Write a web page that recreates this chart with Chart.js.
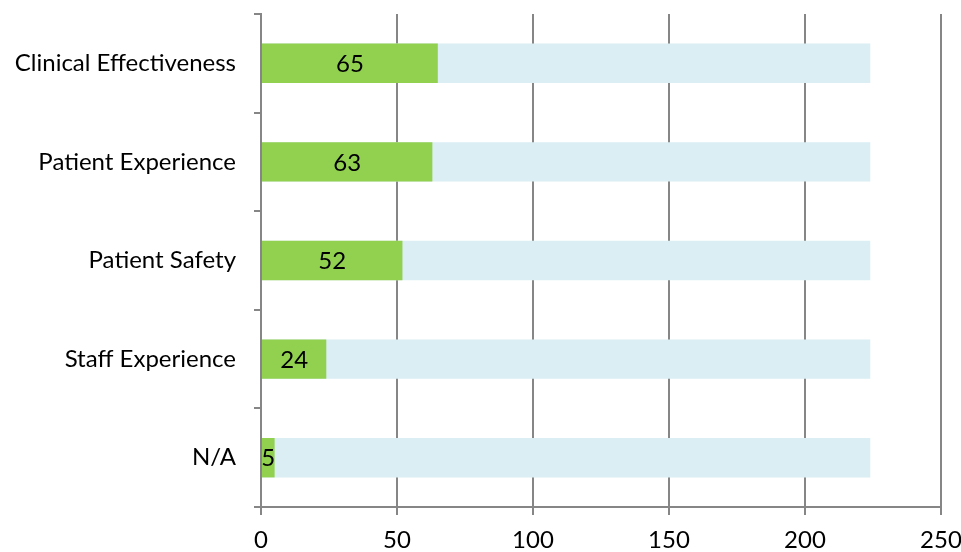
<!DOCTYPE html>
<html>
<head>
<meta charset="utf-8">
<script src="https://cdn.jsdelivr.net/npm/chart.js@4/dist/chart.umd.min.js"></script>
<style>
  html, body { margin: 0; padding: 0; background: #fff; }
  #wrap { width: 961px; height: 552px; }
</style>
</head>
<body>
<div id="wrap"><canvas id="themes"></canvas></div>
<script>
'use strict';

var categories = ['Clinical Effectiveness', 'Patient Experience', 'Patient Safety', 'Staff Experience', 'N/A'];
var counts = [65, 63, 52, 24, 5];
var totals = [224, 224, 224, 224, 224];
var xTicks = [0, 50, 100, 150, 200, 250];

var FONT = 'Lato, "Open Sans", sans-serif';
var FONT_SIZE = 24;
var GRID = '#868686';

// Writes each count in the middle of its green bar
var barLabels = {
  id: 'barLabels',
  afterDatasetsDraw: function (chart) {
    var ctx = chart.ctx;
    var meta = chart.getDatasetMeta(0);
    ctx.save();
    ctx.font = FONT_SIZE + 'px ' + FONT;
    ctx.fillStyle = '#000';
    ctx.textAlign = 'center';
    ctx.textBaseline = 'middle';
    meta.data.forEach(function (bar, i) {
      var cx = (bar.x + bar.base) / 2;
      ctx.fillText(String(counts[i]), cx, bar.y + 1);
    });
    ctx.restore();
  }
};

createThemeChart();

function createThemeChart() {
  var ctx = document.getElementById('themes');
  new Chart(ctx, {
    type: 'bar',
    data: {
      labels: categories,
      datasets: [
        {
          label: 'Count',
          data: counts,
          backgroundColor: '#92D050',
          grouped: false,
          order: 0,
          categoryPercentage: 1,
          barPercentage: 0.4
        },
        {
          label: 'Total',
          data: totals,
          backgroundColor: '#DAEEF3',
          grouped: false,
          order: 1,
          categoryPercentage: 1,
          barPercentage: 0.4
        }
      ]
    },
    options: {
      indexAxis: 'y',
      responsive: true,
      maintainAspectRatio: false,
      animation: false,
      layout: { padding: { top: 14, right: 20, left: 0, bottom: 0 } },
      plugins: {
        legend: { display: false },
        tooltip: { enabled: false }
      },
      scales: {
        x: {
          min: 0,
          max: 250,
          afterBuildTicks: function (axis) {
            axis.ticks = xTicks.map(function (v) { return { value: v }; });
          },
          afterFit: function (axis) {
            axis.height = 45;
            axis.paddingLeft = 0;
            axis.paddingRight = 0;
          },
          border: { color: GRID, width: 2 },
          grid: { color: GRID, lineWidth: 2, tickLength: 8, drawTicks: true },
          ticks: {
            color: '#000',
            font: { family: FONT, size: FONT_SIZE },
            padding: 11,
            maxRotation: 0
          }
        },
        y: {
          afterFit: function (axis) {
            axis.width = 261;
            axis.paddingTop = 0;
            axis.paddingBottom = 0;
          },
          border: { color: GRID, width: 2 },
          grid: { drawOnChartArea: false, color: GRID, lineWidth: 2, tickLength: 7, offset: true },
          ticks: {
            color: '#000',
            font: { family: FONT, size: FONT_SIZE },
            padding: 18
          }
        }
      }
    },
    plugins: [barLabels]
  });
}
</script>
</body>
</html>
